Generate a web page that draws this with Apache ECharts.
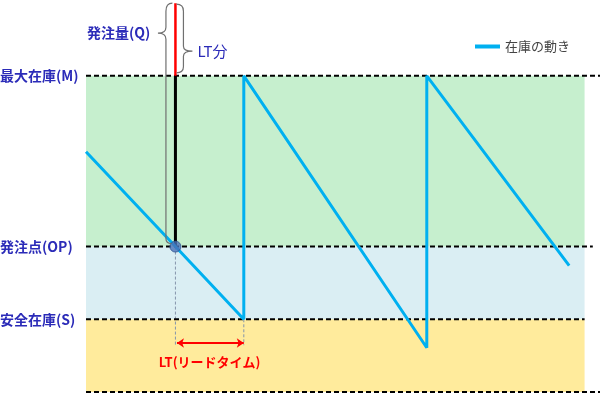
<!DOCTYPE html>
<html><head><meta charset="utf-8">
<script src="https://cdn.jsdelivr.net/npm/echarts@6/dist/echarts.min.js"></script>
<style>html,body{margin:0;padding:0;background:#fff}#c{width:600px;height:395px}</style>
</head><body><div id="c"></div>
<script>
// time axis (0..100), stock axis (0..124)
const levelNames = ['最大在庫(M)', '発注点(OP)', '安全在庫(S)'];
const levelValues = [100, 46, 23];
const levelLineEnds = [100, 98.6, 97];
const bottomLine = [[0, 0], [100, 0]];
const bandEnd = 97;
const stockData = [[0, 76], [17.4, 46], [30.7, 23], [30.7, 100], [66.3, 14], [66.3, 100], [94, 40]];
const orderPoint = [17.4, 46];
const orderQtyTop = 123;
const leadTimeEnd = 30.7;
const arrowLevel = 15.5;
const dottedBottom = 14.8;

const chart = echarts.init(document.getElementById('c'));
const dash = { color: '#000', width: 2, type: [5, 3] };
const blue = '#2b2bb8';
const labelFont = { fontSize: 14, fontWeight: 'bold', fontFamily: 'Noto Sans CJK JP' };
const series = [];

// bands
series.push({
  type: 'line', data: [], silent: true,
  markArea: {
    silent: true,
    data: [
      [{ coord: [0, 0], itemStyle: { color: '#ffeb9c' } }, { coord: [bandEnd, levelValues[2]] }],
      [{ coord: [0, levelValues[2]], itemStyle: { color: '#daeef3' } }, { coord: [bandEnd, levelValues[1]] }],
      [{ coord: [0, levelValues[1]], itemStyle: { color: '#c6efce' } }, { coord: [bandEnd, levelValues[0]] }]
    ]
  }
});
// dashed level lines
levelValues.forEach((v, i) => {
  series.push({ type: 'line', data: [[0, v], [levelLineEnds[i], v]], symbol: 'none', lineStyle: dash, z: 3, silent: true });
});
series.push({ type: 'line', data: bottomLine, symbol: 'none', lineStyle: dash, z: 3, silent: true });
// dotted verticals
[orderPoint[0], leadTimeEnd].forEach((x, i) => {
  series.push({ type: 'line', data: [[x, i === 0 ? orderPoint[1] : levelValues[2]], [x, dottedBottom]], symbol: 'none',
    lineStyle: { color: '#8494ab', width: 1, type: [3, 2] }, z: 2, silent: true });
});
// black order line
series.push({ type: 'line', data: [[orderPoint[0], orderPoint[1]], [orderPoint[0], levelValues[0]]], symbol: 'none',
  lineStyle: { color: '#000', width: 3 }, z: 4, silent: true });
// red LT portion
series.push({ type: 'line', data: [[orderPoint[0], levelValues[0]], [orderPoint[0], orderQtyTop]], symbol: 'none',
  lineStyle: { color: '#ff0000', width: 2.5 }, z: 4, silent: true });
// stock line
series.push({ name: '在庫の動き', type: 'line', data: stockData, symbol: 'none',
  lineStyle: { color: '#00b0f0', width: 3 }, itemStyle: { color: '#00b0f0' }, z: 5, silent: true });
// order point marker
series.push({ type: 'scatter', data: [orderPoint], symbolSize: 11,
  itemStyle: { color: '#4a72b8', borderColor: '#2f528f', borderWidth: 1 }, z: 6, silent: true });
// lead time arrow
series.push({ type: 'line', data: [], silent: true,
  markLine: { silent: true, symbol: ['arrow', 'arrow'], symbolSize: [7, 7], label: { show: false },
    lineStyle: { color: '#ff0000', width: 2, type: 'solid' },
    data: [[{ coord: [orderPoint[0] + 0.3, arrowLevel] }, { coord: [leadTimeEnd, arrowLevel] }]] } });
// braces + annotation texts
series.push({
  type: 'custom', data: [[0]], silent: true, z: 10,
  renderItem: function (params, api) {
    const op = api.coord(orderPoint);
    const mp = api.coord([orderPoint[0], levelValues[0]]);
    const tp = api.coord([orderPoint[0], orderQtyTop]);
    const bx = op[0] - 9.5;
    const bigTip = tp[1] + 30;
    const sx = tp[0] + 8;
    const smallTip = tp[1] + 48;
    const big = 'M' + (op[0] - 3) + ' ' + tp[1] +
      ' Q' + bx + ' ' + tp[1] + ' ' + bx + ' ' + (tp[1] + 8) +
      ' L' + bx + ' ' + (bigTip - 6) +
      ' Q' + bx + ' ' + bigTip + ' ' + (bx - 8) + ' ' + bigTip +
      ' Q' + bx + ' ' + bigTip + ' ' + bx + ' ' + (bigTip + 6) +
      ' L' + bx + ' ' + (op[1] - 8) +
      ' Q' + bx + ' ' + (op[1] - 3) + ' ' + (op[0] - 4) + ' ' + (op[1] - 3);
    const small = 'M' + (tp[0] + 1) + ' ' + (tp[1] + 1) +
      ' Q' + sx + ' ' + (tp[1] + 1) + ' ' + sx + ' ' + (tp[1] + 8) +
      ' L' + sx + ' ' + (smallTip - 5) +
      ' Q' + sx + ' ' + smallTip + ' ' + (sx + 9) + ' ' + smallTip +
      ' Q' + sx + ' ' + smallTip + ' ' + sx + ' ' + (smallTip + 5) +
      ' L' + sx + ' ' + (mp[1] - 9) +
      ' Q' + sx + ' ' + (mp[1] - 3) + ' ' + (tp[0] + 1) + ' ' + (mp[1] - 3);
    const ap = api.coord([(orderPoint[0] + leadTimeEnd) / 2, arrowLevel]);
    const children = [
      { type: 'path', shape: { pathData: big }, style: { stroke: '#707070', lineWidth: 1.2, fill: 'none' } },
      { type: 'path', shape: { pathData: small }, style: { stroke: '#707070', lineWidth: 1.2, fill: 'none' } },
      { type: 'text', x: 87, y: bigTip, style: Object.assign({ text: '発注量(Q)', fill: blue, verticalAlign: 'middle' }, labelFont) },
      { type: 'text', x: sx + 14, y: smallTip, style: { text: 'LT分', fill: blue, fontSize: 15, fontFamily: 'Noto Sans CJK JP', verticalAlign: 'middle' } },
      { type: 'text', x: ap[0], y: ap[1] + 19, style: { text: 'LT(リードタイム)', fill: '#ff0000', align: 'center', verticalAlign: 'middle', fontSize: 13, fontWeight: 'bold', fontFamily: 'Noto Sans CJK JP' } }
    ];
    levelNames.forEach((n, i) => {
      const p = api.coord([0, levelValues[i]]);
      children.push({ type: 'text', x: 0, y: p[1], style: Object.assign({ text: n, fill: blue, verticalAlign: 'middle' }, labelFont) });
    });
    return { type: 'group', children: children };
  }
});

chart.setOption({
  animation: false,
  grid: { left: 86, right: 0, top: 0, bottom: 3 },
  xAxis: { type: 'value', min: 0, max: 100, show: false },
  yAxis: { type: 'value', min: 0, max: 124, show: false },
  legend: { data: [{ name: '在庫の動き', icon: 'rect' }], left: 470, top: 35, itemWidth: 25, itemHeight: 4, itemGap: 8,
    textStyle: { color: '#444', fontSize: 13, fontFamily: 'Noto Sans CJK JP' } },
  series: series
});
</script></body></html>
